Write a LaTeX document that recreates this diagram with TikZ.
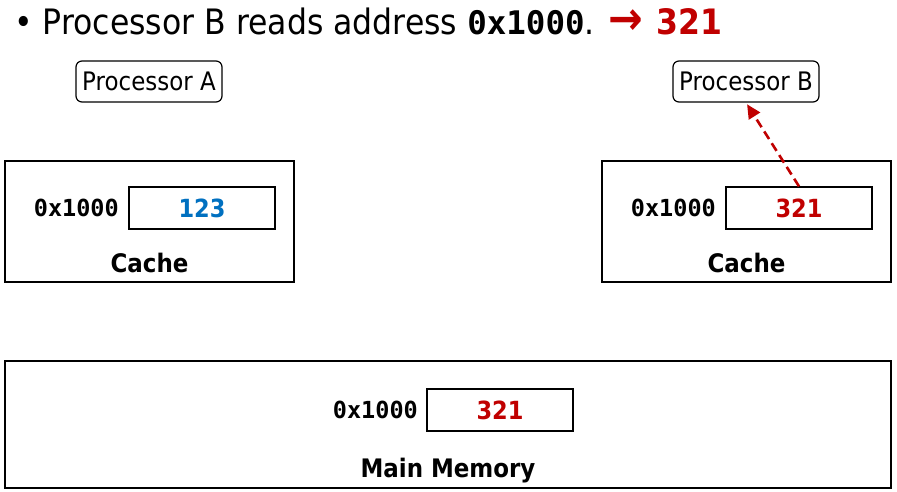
\documentclass[tikz,border=0pt]{standalone}
\usepackage{fontspec}
\setmainfont{DejaVu Sans}[FakeStretch=0.9]
\setmonofont{DejaVu Sans Mono}
\usetikzlibrary{arrows.meta}
\definecolor{darkred}{HTML}{C00000}
\definecolor{valblue}{HTML}{0070C0}
\tikzset{
  procbox/.style={draw, line width=1.2pt, rounded corners=6pt, minimum width=146pt, minimum height=41pt, inner sep=0pt, font=\fontsize{25.5}{25.5}\selectfont},
  outerbox/.style={draw, line width=1.3pt, inner sep=0pt},
  cellbox/.style={draw, line width=1.3pt, minimum width=146pt, minimum height=42pt, inner sep=0pt, font=\fontsize{25}{25}\selectfont\bfseries},
  addr/.style={anchor=east, inner sep=0pt, font=\fontsize{23.5}{23.5}\selectfont\ttfamily\bfseries},
  boxlabel/.style={anchor=base, inner sep=0pt, font=\fontsize{25.5}{25.5}\selectfont\bfseries},
}
\begin{document}
\begin{tikzpicture}[x=1pt,y=-1pt]
\useasboundingbox (0,0) rectangle (897,492);
% title
\node[anchor=base west, inner sep=0pt, font=\fontsize{35}{35}\selectfont] (title) at (14,35)
  {• Processor B reads address {\fontsize{32.5}{32.5}\selectfont\ttfamily\bfseries 0x1000}.\hspace{14pt}{\color{darkred}\bfseries{\fontsize{46}{46}\selectfont →}\hspace{13pt}321}};
% processors
\node[procbox] (pa) at (149,81.5) {Processor A};
\node[procbox] (pb) at (746,81.5) {Processor B};
% caches
\node[outerbox, minimum width=289pt, minimum height=121pt] (ca) at (149.5,221.5) {};
\node[cellbox, text=valblue] (cav) at (202,208) {123};
\node[addr] (caa) at (119,208) {0x1000};
\node[boxlabel] (cal) at (149.5,272) {Cache};
\node[outerbox, minimum width=289pt, minimum height=121pt] (cb) at (746.5,221.5) {};
\node[cellbox, text=darkred] (cbv) at (799,208) {321};
\node[addr] (cba) at (716,208) {0x1000};
\node[boxlabel] (cbl) at (746.5,272) {Cache};
% main memory
\node[outerbox, minimum width=886pt, minimum height=127pt] (mm) at (448,424.5) {};
\node[cellbox, text=darkred] (mmv) at (500,410) {321};
\node[addr] (mma) at (418,410) {0x1000};
\node[boxlabel] (mml) at (448,477) {Main Memory};
% read arrow
\draw[darkred, line width=2.6pt, dash pattern=on 9pt off 5pt, -{Triangle[length=14pt,width=13pt]}, shorten >=2pt]
  (cbv.north) -- (pb.south);
\end{tikzpicture}
\end{document}
